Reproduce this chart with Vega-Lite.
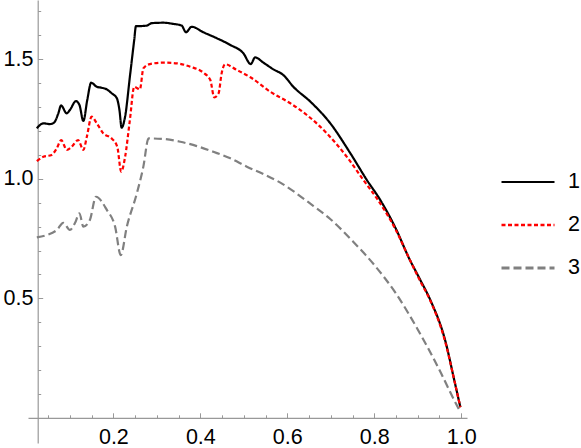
{
  "$schema": "https://vega.github.io/schema/vega-lite/v6.json",
  "width": 439,
  "height": 443,
  "autosize": "none",
  "padding": {"left": 28, "top": 0, "right": 114, "bottom": 5},
  "config": {"view": {"stroke": null}, "font": "Liberation Sans"},
  "data": {"values": [
    {"x":0.024,"y":1.211,"s":"1"},{"x":0.039,"y":1.232,"s":"1"},{"x":0.054,"y":1.229,"s":"1"},{"x":0.0636,"y":1.235,"s":"1"},{"x":0.0735,"y":1.274,"s":"1"},{"x":0.0797,"y":1.307,"s":"1"},{"x":0.0927,"y":1.274,"s":"1"},{"x":0.100,"y":1.288,"s":"1"},{"x":0.114,"y":1.325,"s":"1"},{"x":0.122,"y":1.309,"s":"1"},{"x":0.131,"y":1.242,"s":"1"},{"x":0.140,"y":1.330,"s":"1"},{"x":0.149,"y":1.402,"s":"1"},{"x":0.162,"y":1.385,"s":"1"},{"x":0.173,"y":1.381,"s":"1"},{"x":0.185,"y":1.374,"s":"1"},{"x":0.196,"y":1.358,"s":"1"},{"x":0.208,"y":1.337,"s":"1"},{"x":0.214,"y":1.288,"s":"1"},{"x":0.219,"y":1.214,"s":"1"},{"x":0.227,"y":1.260,"s":"1"},{"x":0.238,"y":1.427,"s":"1"},{"x":0.248,"y":1.581,"s":"1"},{"x":0.252,"y":1.639,"s":"1"},{"x":0.261,"y":1.639,"s":"1"},{"x":0.277,"y":1.641,"s":"1"},{"x":0.288,"y":1.651,"s":"1"},{"x":0.315,"y":1.653,"s":"1"},{"x":0.338,"y":1.648,"s":"1"},{"x":0.357,"y":1.641,"s":"1"},{"x":0.367,"y":1.613,"s":"1"},{"x":0.380,"y":1.636,"s":"1"},{"x":0.407,"y":1.613,"s":"1"},{"x":0.438,"y":1.588,"s":"1"},{"x":0.469,"y":1.560,"s":"1"},{"x":0.499,"y":1.525,"s":"1"},{"x":0.516,"y":1.480,"s":"1"},{"x":0.526,"y":1.508,"s":"1"},{"x":0.545,"y":1.486,"s":"1"},{"x":0.568,"y":1.458,"s":"1"},{"x":0.591,"y":1.434,"s":"1"},{"x":0.614,"y":1.385,"s":"1"},{"x":0.653,"y":1.323,"s":"1"},{"x":0.699,"y":1.232,"s":"1"},{"x":0.745,"y":1.107,"s":"1"},{"x":0.783,"y":0.995,"s":"1"},{"x":0.814,"y":0.911,"s":"1"},{"x":0.850,"y":0.790,"s":"1"},{"x":0.880,"y":0.668,"s":"1"},{"x":0.905,"y":0.580,"s":"1"},{"x":0.929,"y":0.493,"s":"1"},{"x":0.963,"y":0.325,"s":"1"},{"x":0.985,"y":0.150,"s":"1"},{"x":0.998,"y":0.045,"s":"1"},
    {"x":0.024,"y":1.074,"s":"2"},{"x":0.039,"y":1.092,"s":"2"},{"x":0.058,"y":1.100,"s":"2"},{"x":0.070,"y":1.128,"s":"2"},{"x":0.080,"y":1.162,"s":"2"},{"x":0.093,"y":1.121,"s":"2"},{"x":0.104,"y":1.134,"s":"2"},{"x":0.119,"y":1.162,"s":"2"},{"x":0.131,"y":1.121,"s":"2"},{"x":0.139,"y":1.176,"s":"2"},{"x":0.150,"y":1.260,"s":"2"},{"x":0.162,"y":1.232,"s":"2"},{"x":0.177,"y":1.190,"s":"2"},{"x":0.196,"y":1.169,"s":"2"},{"x":0.209,"y":1.134,"s":"2"},{"x":0.218,"y":1.030,"s":"2"},{"x":0.227,"y":1.092,"s":"2"},{"x":0.238,"y":1.246,"s":"2"},{"x":0.248,"y":1.385,"s":"2"},{"x":0.255,"y":1.379,"s":"2"},{"x":0.261,"y":1.374,"s":"2"},{"x":0.269,"y":1.462,"s":"2"},{"x":0.284,"y":1.480,"s":"2"},{"x":0.315,"y":1.486,"s":"2"},{"x":0.346,"y":1.483,"s":"2"},{"x":0.377,"y":1.469,"s":"2"},{"x":0.407,"y":1.444,"s":"2"},{"x":0.423,"y":1.413,"s":"2"},{"x":0.432,"y":1.341,"s":"2"},{"x":0.442,"y":1.358,"s":"2"},{"x":0.449,"y":1.441,"s":"2"},{"x":0.457,"y":1.479,"s":"2"},{"x":0.484,"y":1.455,"s":"2"},{"x":0.515,"y":1.425,"s":"2"},{"x":0.561,"y":1.364,"s":"2"},{"x":0.607,"y":1.316,"s":"2"},{"x":0.645,"y":1.267,"s":"2"},{"x":0.691,"y":1.190,"s":"2"},{"x":0.737,"y":1.092,"s":"2"},{"x":0.775,"y":0.995,"s":"2"},{"x":0.806,"y":0.918,"s":"2"},{"x":0.850,"y":0.785,"s":"2"},{"x":0.880,"y":0.668,"s":"2"},{"x":0.905,"y":0.575,"s":"2"},{"x":0.929,"y":0.490,"s":"2"},{"x":0.963,"y":0.320,"s":"2"},{"x":0.985,"y":0.150,"s":"2"},{"x":0.998,"y":0.045,"s":"2"},
    {"x":0.024,"y":0.755,"s":"3"},{"x":0.047,"y":0.765,"s":"3"},{"x":0.070,"y":0.786,"s":"3"},{"x":0.085,"y":0.816,"s":"3"},{"x":0.100,"y":0.786,"s":"3"},{"x":0.112,"y":0.816,"s":"3"},{"x":0.122,"y":0.856,"s":"3"},{"x":0.131,"y":0.800,"s":"3"},{"x":0.146,"y":0.828,"s":"3"},{"x":0.160,"y":0.925,"s":"3"},{"x":0.185,"y":0.870,"s":"3"},{"x":0.204,"y":0.800,"s":"3"},{"x":0.217,"y":0.681,"s":"3"},{"x":0.231,"y":0.800,"s":"3"},{"x":0.254,"y":0.939,"s":"3"},{"x":0.269,"y":1.051,"s":"3"},{"x":0.281,"y":1.169,"s":"3"},{"x":0.315,"y":1.167,"s":"3"},{"x":0.354,"y":1.155,"s":"3"},{"x":0.392,"y":1.137,"s":"3"},{"x":0.430,"y":1.113,"s":"3"},{"x":0.469,"y":1.086,"s":"3"},{"x":0.507,"y":1.051,"s":"3"},{"x":0.545,"y":1.020,"s":"3"},{"x":0.584,"y":0.984,"s":"3"},{"x":0.650,"y":0.900,"s":"3"},{"x":0.700,"y":0.830,"s":"3"},{"x":0.750,"y":0.740,"s":"3"},{"x":0.800,"y":0.640,"s":"3"},{"x":0.850,"y":0.520,"s":"3"},{"x":0.900,"y":0.370,"s":"3"},{"x":0.950,"y":0.200,"s":"3"},{"x":0.985,"y":0.070,"s":"3"},{"x":0.995,"y":0.035,"s":"3"}
  ]},
  "layer": [
    {
      "mark": {"type": "line", "opacity": 0},
      "encoding": {
        "x": {"field": "x", "type": "quantitative", "scale": {"domain": [0.0037, 1.0133], "nice": false, "zero": false},
          "axis": {"orient": "bottom", "offset": -25.2, "values": [0.05,0.1,0.15,0.25,0.3,0.35,0.45,0.5,0.55,0.65,0.7,0.75,0.85,0.9,0.95], "labels": false, "domain": false, "grid": false, "tickSize": -3, "tickColor": "#999999", "tickWidth": 1, "title": null}},
        "y": {"field": "y", "type": "quantitative", "scale": {"domain": [-0.105, 1.748], "nice": false, "zero": false},
          "axis": {"orient": "left", "offset": -9.7, "values": [0.1,0.2,0.3,0.4,0.6,0.7,0.8,0.9,1.1,1.2,1.3,1.4,1.6,1.7], "labels": false, "domain": false, "grid": false, "tickSize": -3, "tickColor": "#999999", "tickWidth": 1, "title": null}}
      }
    },
    {
      "mark": {"type": "line", "strokeWidth": 2.2, "interpolate": "monotone"},
      "encoding": {
        "x": {"field": "x", "type": "quantitative",
          "axis": {"orient": "bottom", "offset": -25.2, "values": [0.2,0.4,0.6,0.8,1.0], "format": ".1f", "grid": false, "domainColor": "#999999", "domainWidth": 1.2, "tickColor": "#999999", "tickSize": -5, "tickWidth": 1, "labelPadding": 14, "labelFontSize": 21.5, "labelColor": "#000000", "labelFont": "Liberation Sans", "title": null}},
        "y": {"field": "y", "type": "quantitative",
          "axis": {"orient": "left", "offset": -9.7, "values": [0.5,1.0,1.5], "format": ".1f", "grid": false, "domainColor": "#999999", "domainWidth": 1.2, "tickColor": "#999999", "tickSize": -5, "tickWidth": 1, "labelPadding": 9.7, "labelFontSize": 21.5, "labelColor": "#000000", "labelFont": "Liberation Sans", "title": null}},
        "color": {"field": "s", "type": "nominal", "scale": {"domain": ["1","2","3"], "range": ["#000000","#ff0000","#808080"]},
          "legend": {"title": null, "orient": "none", "legendX": 472, "legendY": 154, "symbolType": "stroke", "symbolSize": 2809, "symbolStrokeWidth": 2.5, "labelFontSize": 21.5, "labelColor": "#000000", "labelFont": "Liberation Sans", "labelOffset": 12, "rowPadding": 4, "padding": 0}},
        "strokeDash": {"field": "s", "type": "nominal", "scale": {"domain": ["1","2","3"], "range": [[1,0],[4,2.5],[8,4]]},
          "legend": {"title": null, "orient": "none", "legendX": 472, "legendY": 154, "symbolType": "stroke", "symbolSize": 2809, "symbolStrokeWidth": 2.5, "labelFontSize": 21.5, "labelColor": "#000000", "labelFont": "Liberation Sans", "labelOffset": 12, "rowPadding": 4, "padding": 0}},
        "strokeWidth": {"field": "s", "type": "nominal", "scale": {"domain": ["1","2","3"], "range": [2.2, 3, 3]}, "legend": null}
      }
    }
  ],
  "resolve": {"axis": {"x": "independent", "y": "independent"}}
}
